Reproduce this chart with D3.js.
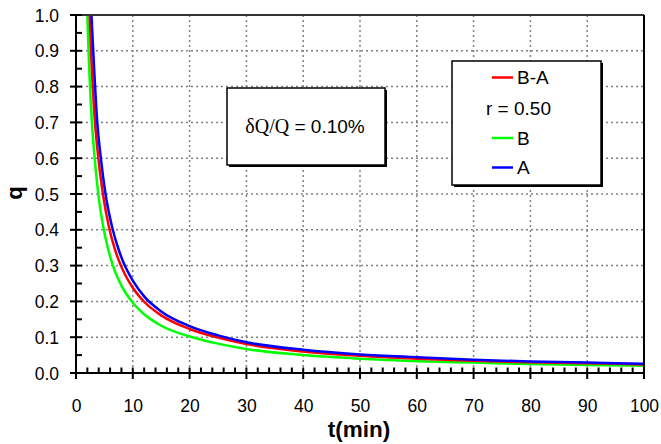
<!DOCTYPE html>
<html><head><meta charset="utf-8">
<script src="https://cdn.jsdelivr.net/npm/d3@7"></script>
<style>body{margin:0;background:#fff;}svg{display:block;}</style>
</head><body>
<svg id="c" width="661" height="444"></svg>
<script>
// Data
const tA  = [2.6, 3.0, 3.7, 4.45, 5.2, 6.4, 7.5, 8.4, 10, 12, 15, 20, 25, 30, 40, 50, 60, 70, 80, 90, 100];
const qA  = [1.04, 0.91, 0.71, 0.59, 0.50, 0.405, 0.345, 0.307, 0.258, 0.214, 0.172, 0.131, 0.105, 0.086, 0.065, 0.052, 0.044, 0.037, 0.032, 0.029, 0.026];
const tBA = [2.3, 2.7, 3.3, 3.97, 4.74, 5.8, 6.8, 7.9, 10, 12, 15, 20, 25, 30, 40, 50, 60, 70, 80, 90, 100];
const qBA = [1.04, 0.88, 0.71, 0.595, 0.50, 0.408, 0.348, 0.30, 0.238, 0.199, 0.161, 0.123, 0.099, 0.081, 0.060, 0.048, 0.040, 0.034, 0.030, 0.027, 0.024];
const tB  = [1.9, 2.3, 2.8, 3.4, 4.0, 4.9, 5.6, 6.5, 8, 10, 12, 15, 20, 25, 30, 40, 50, 60, 70, 80, 90, 100];
const qB  = [1.04, 0.86, 0.70, 0.58, 0.49, 0.40, 0.35, 0.30, 0.244, 0.196, 0.164, 0.132, 0.102, 0.082, 0.067, 0.050, 0.040, 0.033, 0.029, 0.025, 0.022, 0.020];
const xTicks = [0, 10, 20, 30, 40, 50, 60, 70, 80, 90, 100];
const yTicks = [0.0, 0.1, 0.2, 0.3, 0.4, 0.5, 0.6, 0.7, 0.8, 0.9, 1.0];
const seriesColors = {"B-A": "#ff0000", "B": "#00ff00", "A": "#0000ff"};
const annotation = "0.10%";
const rLabel = "r = 0.50";

const svg = d3.select("#c");
const L = 76, R = 644, T = 15, B = 373;
const x = d3.scaleLinear().domain([0, 100]).range([L, R]);
const y = d3.scaleLinear().domain([0, 1]).range([B, T]);
const font = "'Liberation Sans', Arial, sans-serif";

// grid
const g = svg.append("g");
xTicks.slice(1, -1).forEach(v => g.append("line").attr("x1", x(v)).attr("x2", x(v)).attr("y1", T).attr("y2", B)
  .attr("stroke", "#808080").attr("stroke-width", 1.5).attr("stroke-dasharray", "2,3"));
yTicks.slice(1, -1).forEach(v => g.append("line").attr("x1", L).attr("x2", R).attr("y1", y(v)).attr("y2", y(v))
  .attr("stroke", "#808080").attr("stroke-width", 1.5).attr("stroke-dasharray", "2,3"));

// curves
svg.append("clipPath").attr("id", "clip").append("rect").attr("x", L).attr("y", T).attr("width", R - L).attr("height", B - T);
const line = d3.line().x(d => x(d[0])).y(d => y(d[1])).curve(d3.curveMonotoneX);
const series = [
  {name: "B", t: tB, q: qB},
  {name: "B-A", t: tBA, q: qBA},
  {name: "A", t: tA, q: qA}
];
series.forEach(s => {
  svg.append("path").attr("clip-path", "url(#clip)")
    .attr("d", line(s.t.map((t, i) => [t, s.q[i]])))
    .attr("fill", "none").attr("stroke", seriesColors[s.name]).attr("stroke-width", 2.5);
});

// frame
svg.append("line").attr("x1", L).attr("x2", R).attr("y1", T).attr("y2", T).attr("stroke", "#333").attr("stroke-width", 2);
svg.append("line").attr("x1", R).attr("x2", R).attr("y1", T).attr("y2", B).attr("stroke", "#000").attr("stroke-width", 2);

// axes
const xAxis = d3.axisBottom(x).tickValues(xTicks).tickSize(0).tickFormat(d3.format("d"));
const xa = svg.append("g").attr("transform", `translate(0,${B})`).call(xAxis);
xa.select(".domain").remove();
xa.selectAll("text").attr("font-family", font).attr("font-size", 17.5).attr("fill", "#000").attr("dy", 0).attr("y", 38.5);
const yAxis = d3.axisLeft(y).tickValues(yTicks).tickSize(0).tickFormat(d3.format(".1f"));
const ya = svg.append("g").attr("transform", `translate(${L},0)`).call(yAxis);
ya.select(".domain").remove();
ya.selectAll("text").attr("font-family", font).attr("font-size", 17.5).attr("fill", "#000").attr("x", -17).attr("dy", "0.35em");

// ticks
const tk = svg.append("g").attr("stroke", "#000").attr("stroke-width", 2);
d3.range(0, 101, 2).forEach(v => {
  const major = v % 10 === 0;
  tk.append("line").attr("x1", x(v)).attr("x2", x(v)).attr("y1", B - 5.5).attr("y2", major ? B + 6 : B);
});
d3.range(0, 21).forEach(i => {
  const v = i * 0.05, major = i % 2 === 0;
  tk.append("line").attr("y1", y(v)).attr("y2", y(v)).attr("x1", major ? L - 6 : L).attr("x2", L + 6);
});
svg.append("line").attr("x1", L).attr("x2", R).attr("y1", B).attr("y2", B).attr("stroke", "#000").attr("stroke-width", 2);
svg.append("line").attr("x1", L).attr("x2", L).attr("y1", T).attr("y2", B).attr("stroke", "#000").attr("stroke-width", 2);

// axis titles
svg.append("text").attr("x", 359).attr("y", 437).attr("text-anchor", "middle").attr("font-family", font)
  .attr("font-weight", "bold").attr("font-size", 22.5).text("t(min)");
svg.append("text").attr("transform", "translate(21.5,193) rotate(-90)").attr("text-anchor", "middle").attr("font-family", font)
  .attr("font-weight", "bold").attr("font-size", 22).text("q");

// boxes
function box(x0, y0, w, h) {
  svg.append("rect").attr("x", x0 + 2).attr("y", y0 + 2).attr("width", w).attr("height", h).attr("fill", "#000");
  svg.append("rect").attr("x", x0).attr("y", y0).attr("width", w).attr("height", h).attr("fill", "#fff")
    .attr("stroke", "#000").attr("stroke-width", 1.5);
}
box(227, 88, 158, 77);
const at = svg.append("text").attr("x", 305).attr("y", 133).attr("text-anchor", "middle").attr("font-size", 19).attr("font-family", font);
at.append("tspan").attr("font-family", "'Liberation Serif', 'Times New Roman', serif").attr("font-size", 20).text("δQ/Q");
at.append("tspan").text(" = " + annotation);

// legend
box(452, 61, 149, 124);
const legendRows = [
  {name: "B-A", y: 77.5},
  {text: rLabel, y: 108},
  {name: "B", y: 138},
  {name: "A", y: 167.5}
];
legendRows.forEach(r => {
  if (r.name) {
    svg.append("line").attr("x1", 492).attr("x2", 513).attr("y1", r.y).attr("y2", r.y)
      .attr("stroke", seriesColors[r.name]).attr("stroke-width", 2.5);
    svg.append("text").attr("x", 517).attr("y", r.y + 6.5).attr("font-family", font).attr("font-size", 19).text(r.name);
  } else {
    svg.append("text").attr("x", 486).attr("y", r.y + 6.5).attr("font-family", font).attr("font-size", 19).text(r.text);
  }
});
</script>
</body></html>
